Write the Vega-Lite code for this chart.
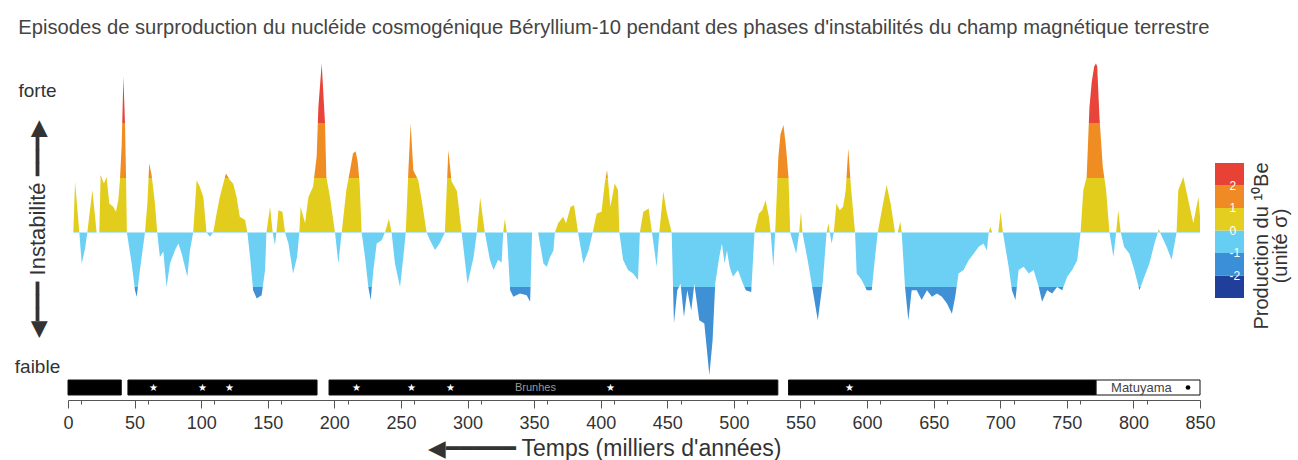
{
  "$schema": "https://vega.github.io/schema/vega-lite/v6.json",
  "padding": {"left": 14, "top": 17, "right": 0, "bottom": 0},
  "config": {"view": {"stroke": null}, "font": "Liberation Sans"},
  "title": {"text": "Episodes de surproduction du nucléide cosmogénique Béryllium-10 pendant des phases d'instabilités du champ magnétique terrestre", "anchor": "start", "fontSize": 20.2, "fontWeight": "normal", "color": "#444", "offset": 20, "dx": 4},
  "datasets": {
    "be10": [
      {"t":4,"v":0},{"t":5.3,"v":0.93},{"t":7.5,"v":0.3},{"t":8.5,"v":0},
      {"t":10.3,"v":-0.57},{"t":12.8,"v":-0.3},{"t":14.5,"v":0},
      {"t":18.3,"v":0.78},{"t":21.5,"v":0},
      {"t":23.5,"v":0},{"t":24.5,"v":1.05},{"t":27,"v":0.9},{"t":29,"v":1.02},{"t":31,"v":0.53},{"t":34,"v":0.47},{"t":36,"v":0.38},{"t":37.8,"v":0.6},{"t":39,"v":0.96},{"t":40.3,"v":1.6},{"t":41.6,"v":2.86},{"t":42.8,"v":2.0},{"t":43.6,"v":1.0},{"t":44.2,"v":0},
      {"t":47.8,"v":-0.57},{"t":50.3,"v":-1.06},{"t":51.6,"v":-1.18},{"t":54,"v":-0.69},{"t":57.8,"v":0},
      {"t":59.6,"v":0.53},{"t":61,"v":1.27},{"t":62.8,"v":1.05},{"t":65.3,"v":0.53},{"t":67,"v":0},
      {"t":69,"v":-0.45},{"t":71.6,"v":-0.35},{"t":74,"v":-1.0},{"t":76.6,"v":-0.57},{"t":80.4,"v":-0.32},{"t":82.9,"v":-0.2},{"t":85.4,"v":-0.39},{"t":89.6,"v":-0.81},{"t":91.6,"v":-0.32},{"t":94,"v":0},
      {"t":96.6,"v":0.96},{"t":99,"v":0.84},{"t":101.6,"v":0.65},{"t":104,"v":0},
      {"t":106.6,"v":-0.08},{"t":109,"v":0},
      {"t":111.6,"v":0.35},{"t":114,"v":0.65},{"t":116.6,"v":0.9},{"t":118.6,"v":1.08},{"t":121.7,"v":0.96},{"t":124,"v":0.9},{"t":126.6,"v":0.65},{"t":129,"v":0.29},{"t":133,"v":0.23},{"t":134.7,"v":0},
      {"t":136.7,"v":-0.45},{"t":139,"v":-1.06},{"t":141.7,"v":-1.21},{"t":145.4,"v":-1.15},{"t":148,"v":-0.69},{"t":149,"v":0},
      {"t":151.7,"v":0.47},{"t":153.7,"v":0},
      {"t":155.4,"v":-0.23},{"t":156.5,"v":0},
      {"t":158,"v":0.41},{"t":161,"v":0.38},{"t":163,"v":0},
      {"t":165.5,"v":-0.2},{"t":169,"v":-0.75},{"t":172,"v":-0.45},{"t":173.7,"v":0},
      {"t":174.7,"v":0.47},{"t":178,"v":0.17},{"t":180.5,"v":0.65},{"t":184,"v":0.84},{"t":186.7,"v":1.39},{"t":188,"v":2.3},{"t":190.5,"v":3.1},{"t":193,"v":2.0},{"t":194,"v":1.02},{"t":196.7,"v":0.65},{"t":200.5,"v":0},
      {"t":203,"v":-0.57},{"t":205.5,"v":0},
      {"t":209,"v":0.78},{"t":211.8,"v":1.14},{"t":214,"v":1.45},{"t":216,"v":1.49},{"t":217.5,"v":1.3},{"t":219,"v":0.9},{"t":220.5,"v":0},
      {"t":223,"v":-0.45},{"t":225.5,"v":-1.0},{"t":227.3,"v":-1.24},{"t":229.3,"v":-0.69},{"t":231.8,"v":-0.2},{"t":235.5,"v":-0.14},{"t":238,"v":0},
      {"t":241,"v":0.25},{"t":243,"v":0},
      {"t":245.5,"v":-0.57},{"t":249.3,"v":-1.0},{"t":251.8,"v":-0.45},{"t":253.6,"v":0},
      {"t":255.6,"v":1.14},{"t":257.3,"v":2.0},{"t":259.3,"v":1.14},{"t":263,"v":0.96},{"t":265.6,"v":0.59},{"t":269.3,"v":0},
      {"t":271.8,"v":-0.14},{"t":275.6,"v":-0.32},{"t":279,"v":-0.2},{"t":283,"v":0},
      {"t":285.6,"v":1.51},{"t":288,"v":0.94},{"t":292,"v":0.76},{"t":295.6,"v":0},
      {"t":300,"v":-0.94},{"t":304.5,"v":-0.46},{"t":307,"v":0},
      {"t":309.5,"v":0.64},{"t":313,"v":0},
      {"t":316.8,"v":-0.5},{"t":319.5,"v":-0.69},{"t":323,"v":-0.5},{"t":325.6,"v":-0.55},{"t":326.8,"v":0},
      {"t":328,"v":0.25},{"t":329.5,"v":0},
      {"t":332,"v":-1.06},{"t":334.4,"v":-1.18},{"t":339.4,"v":-1.12},{"t":344.4,"v":-1.15},{"t":347,"v":-1.27},{"t":348.5,"v":0},
      {"t":353,"v":0},{"t":354.4,"v":-0.2},{"t":357,"v":-0.57},{"t":359.5,"v":-0.63},{"t":362,"v":-0.45},{"t":364.5,"v":-0.33},{"t":365.6,"v":0},
      {"t":368,"v":0.17},{"t":371.8,"v":0.29},{"t":374,"v":0.17},{"t":377.4,"v":0.47},{"t":380,"v":0.5},{"t":382,"v":0.17},{"t":383,"v":0},
      {"t":387,"v":-0.57},{"t":390.8,"v":-0.33},{"t":394,"v":0},
      {"t":397,"v":0.35},{"t":400.6,"v":0.38},{"t":403,"v":0.9},{"t":404.8,"v":1.14},{"t":407.3,"v":0.47},{"t":410.5,"v":0.9},{"t":413,"v":0.78},{"t":414,"v":0},
      {"t":416.8,"v":-0.5},{"t":420.5,"v":-0.69},{"t":424.3,"v":-0.75},{"t":428,"v":-0.87},{"t":429.4,"v":0},
      {"t":432,"v":0.38},{"t":436,"v":0.44},{"t":438.5,"v":0},
      {"t":442,"v":-0.63},{"t":444,"v":0},
      {"t":447,"v":0.75},{"t":449.5,"v":0.38},{"t":453.3,"v":0},
      {"t":455,"v":-1.67},{"t":457.5,"v":-1.06},{"t":460,"v":-0.94},{"t":462.5,"v":-1.55},{"t":465,"v":-1.06},{"t":468,"v":-1.43},{"t":470.3,"v":-0.94},{"t":474,"v":-1.61},{"t":477.8,"v":-1.67},{"t":481.6,"v":-2.62},{"t":484,"v":-1.98},{"t":486,"v":-0.94},{"t":489,"v":-0.45},{"t":491,"v":-0.2},{"t":493,"v":-0.57},{"t":494.8,"v":-0.33},{"t":496.8,"v":-0.63},{"t":499.3,"v":-0.81},{"t":503,"v":-0.69},{"t":506.8,"v":-0.94},{"t":509,"v":-1.06},{"t":513,"v":-1.09},{"t":515.5,"v":0},
      {"t":518.8,"v":0.35},{"t":521.3,"v":0.41},{"t":523.8,"v":0.59},{"t":526.3,"v":0.29},{"t":527.6,"v":0},
      {"t":529.6,"v":-0.63},{"t":531,"v":0},
      {"t":533.4,"v":1.39},{"t":535,"v":1.8},{"t":537.2,"v":1.97},{"t":539,"v":1.6},{"t":541,"v":1.02},{"t":542.3,"v":0},
      {"t":546.8,"v":-0.39},{"t":549,"v":0},
      {"t":550.4,"v":0.38},{"t":551.5,"v":0},
      {"t":555.4,"v":-0.51},{"t":559.2,"v":-1.06},{"t":563,"v":-1.61},{"t":566.8,"v":-0.9},{"t":569.6,"v":0},
      {"t":571,"v":0.17},{"t":572,"v":0},
      {"t":573.4,"v":-0.2},{"t":575,"v":0},
      {"t":577,"v":0.53},{"t":579.5,"v":0.41},{"t":582,"v":0.47},{"t":584,"v":0.78},{"t":585.9,"v":1.54},{"t":587.7,"v":0.9},{"t":589.7,"v":0.35},{"t":591,"v":0},
      {"t":592.2,"v":-0.75},{"t":596,"v":-0.87},{"t":599.8,"v":-1.06},{"t":603.5,"v":-1.06},{"t":606,"v":-0.45},{"t":608,"v":0},
      {"t":612,"v":0.53},{"t":614.7,"v":0.87},{"t":617.7,"v":0.53},{"t":621,"v":0},
      {"t":623,"v":0},{"t":625,"v":0.2},{"t":626,"v":0},
      {"t":628.5,"v":-1.0},{"t":631,"v":-1.61},{"t":633.5,"v":-1.06},{"t":637.3,"v":-1.06},{"t":641,"v":-1.24},{"t":645,"v":-1.06},{"t":648.7,"v":-1.18},{"t":652.5,"v":-1.12},{"t":656.2,"v":-1.18},{"t":660,"v":-1.3},{"t":663.7,"v":-1.49},{"t":666.2,"v":-1.18},{"t":668.7,"v":-0.75},{"t":672.5,"v":-0.69},{"t":676.3,"v":-0.51},{"t":680,"v":-0.39},{"t":683.8,"v":-0.26},{"t":687.5,"v":-0.2},{"t":690,"v":-0.33},{"t":691.3,"v":0},
      {"t":692.5,"v":0.1},{"t":694,"v":0},
      {"t":698.5,"v":0},{"t":700.3,"v":0.38},{"t":702,"v":0},
      {"t":706.3,"v":-0.63},{"t":708.8,"v":-1.06},{"t":711.4,"v":-1.24},{"t":713.8,"v":-0.69},{"t":717.6,"v":-0.63},{"t":721.4,"v":-0.75},{"t":725.1,"v":-0.69},{"t":728.9,"v":-1.0},{"t":731.4,"v":-1.27},{"t":735.2,"v":-1.06},{"t":739,"v":-1.12},{"t":742.7,"v":-1.0},{"t":746.5,"v":-1.06},{"t":750.3,"v":-0.81},{"t":754,"v":-0.69},{"t":757.8,"v":-0.51},{"t":760.3,"v":0},
      {"t":762.4,"v":0.78},{"t":764.9,"v":1.02},{"t":767,"v":2.3},{"t":768.7,"v":2.76},{"t":770.5,"v":3.04},{"t":771.8,"v":3.1},{"t":772.8,"v":3.05},{"t":774.5,"v":2.12},{"t":777,"v":1.2},{"t":779.5,"v":0.78},{"t":782,"v":0},
      {"t":785,"v":-0.45},{"t":787,"v":0},
      {"t":788.6,"v":0.41},{"t":790.5,"v":0},
      {"t":793,"v":-0.26},{"t":797,"v":-0.39},{"t":800.7,"v":-0.69},{"t":804.5,"v":-1.06},{"t":808.2,"v":-0.81},{"t":812,"v":-0.57},{"t":815.8,"v":-0.2},{"t":818.3,"v":0},
      {"t":819,"v":0.07},{"t":820,"v":0},
      {"t":824.9,"v":-0.26},{"t":828.7,"v":-0.5},{"t":832.4,"v":0},
      {"t":833.7,"v":0.78},{"t":837.5,"v":1.02},{"t":841.2,"v":0.59},{"t":845,"v":0.17},{"t":848.8,"v":0.65},{"t":850,"v":0.3}
    ],
    "chrons": [
      {"start":0,"end":40,"chron":"Brunhes"},
      {"start":45,"end":187,"chron":"Brunhes"},
      {"start":196,"end":533,"chron":"Brunhes"},
      {"start":541,"end":772,"chron":"Brunhes"},
      {"start":772,"end":850,"chron":"Matuyama"}
    ],
    "stars": [{"t":64},{"t":101},{"t":121},{"t":217},{"t":258},{"t":287},{"t":407},{"t":587}]
  },
  "bounds": "flush",
  "spacing": 3,
  "vconcat": [
    {
      "width": 1132,
      "height": 319,
      "data": {"name": "be10"},
      "layer": [
        {
          "mark": {
            "type": "area",
            "interpolate": "linear",
            "color": {
              "gradient": "linear", "x1": 0, "y1": 0, "x2": 0, "y2": 1,
              "stops": [
                {"offset": 0, "color": "#e8443a"},
                {"offset": 0.19231, "color": "#e8443a"},
                {"offset": 0.19231, "color": "#ef8c22"},
                {"offset": 0.36713, "color": "#ef8c22"},
                {"offset": 0.36713, "color": "#e2cd1c"},
                {"offset": 0.54196, "color": "#e2cd1c"},
                {"offset": 0.54196, "color": "#6ccff4"},
                {"offset": 0.71678, "color": "#6ccff4"},
                {"offset": 0.71678, "color": "#3f90d5"},
                {"offset": 1, "color": "#3f90d5"}
              ]
            }
          },
          "encoding": {
            "x": {
              "field": "t", "type": "quantitative", "scale": {"domain": [0, 850], "nice": false},
              "axis": {
                "orient": "bottom", "offset": 23,
                "values": [10,20,30,40,60,70,80,90,110,120,130,140,160,170,180,190,210,220,230,240,260,270,280,290,310,320,330,340,360,370,380,390,410,420,430,440,460,470,480,490,510,520,530,540,560,570,580,590,610,620,630,640,660,670,680,690,710,720,730,740,760,770,780,790,810,820,830,840],
                "tickSize": 4, "labels": false, "domain": false, "grid": false, "title": null, "tickColor": "#555"
              }
            },
            "y": {
              "field": "v", "type": "quantitative",
              "scale": {"domain": [-2.65, 3.2], "nice": false, "zero": false},
              "axis": {
                "values": [2.6, -2.45],
                "labelExpr": "datum.value > 0 ? 'forte' : 'faible'",
                "ticks": false, "domain": false, "grid": false,
                "labelFontSize": 19, "labelColor": "#333", "labelAlign": "center", "labelBaseline": "middle",
                "labelPadding": 31,
                "title": "◀━━━ Instabilité ━━━▶",
                "titleFontSize": 22, "titleFontWeight": "normal", "titleColor": "#333",
                "titleX": -31, "titleY": 170.5, "titleAngle": 270, "titleAlign": "center", "titleBaseline": "middle"
              }
            },
            "y2": {"datum": 0}
          }
        },
        {
          "mark": {"type": "point", "opacity": 0},
          "encoding": {
            "x": {"field": "t", "type": "quantitative"},
            "y": {"field": "v", "type": "quantitative"},
            "color": {
              "field": "v", "type": "quantitative",
              "scale": {"type": "threshold", "domain": [-2, -1, 0, 1, 2], "range": ["#1f3f9b", "#3b8fd9", "#66cdf3", "#e4cf20", "#f08a24", "#e84136"]},
              "legend": {
                "type": "gradient", "orient": "none", "legendX": 1147, "legendY": 105, "direction": "vertical",
                "gradientLength": 135, "gradientThickness": 29, "gradientStrokeWidth": 0,
                "labelColor": "#ffffff", "labelFontSize": 12, "labelOffset": -14.5, "labelAlign": "center", "labelOverlap": false,
                "title": ["Production du ¹⁰Be", "(unité σ)"], "titleOrient": "right", "titleAlign": "center",
                "titleFontSize": 20, "titleFontWeight": "normal", "titleColor": "#333", "titlePadding": 8, "titleLineHeight": 19,
                "encode": {"title": {"update": {"angle": {"value": 270}, "align": {"value": "center"}, "dx": {"value": -25}, "dy": {"value": 20}}}}
              }
            }
          }
        }
      ]
    },
    {
      "width": 1132,
      "height": 15,
      "layer": [
        {
          "data": {"name": "chrons"},
          "mark": {"type": "rect", "stroke": "#111", "strokeWidth": 1},
          "encoding": {
            "x": {
              "field": "start", "type": "quantitative", "scale": {"domain": [0, 850], "nice": false},
              "axis": {
                "values": [0,50,100,150,200,250,300,350,400,450,500,550,600,650,700,750,800,850],
                "tickSize": 8, "labelFontSize": 18, "labelColor": "#333", "labelPadding": 6,
                "labelFlush": false, "labelOverlap": false,
                "domainColor": "#555", "tickColor": "#555", "offset": 5, "grid": false,
                "title": "◀━━━━━  Temps (milliers d'années)",
                "titleFontSize": 23, "titleFontWeight": "normal", "titleColor": "#333", "titlePadding": 5, "titleX": 536
              }
            },
            "x2": {"field": "end"},
            "color": {"field": "chron", "type": "nominal", "scale": {"domain": ["Brunhes", "Matuyama"], "range": ["#000000", "#ffffff"]}, "legend": null}
          }
        },
        {
          "data": {"name": "stars"},
          "mark": {"type": "text", "text": "★", "color": "#ffffff", "fontSize": 10},
          "encoding": {"x": {"field": "t", "type": "quantitative"}}
        },
        {
          "data": {"values": [{"t": 351, "label": "Brunhes"}]},
          "mark": {"type": "text", "color": "#9a9a9a", "fontSize": 11},
          "encoding": {"x": {"field": "t", "type": "quantitative"}, "text": {"field": "label"}}
        },
        {
          "data": {"values": [{"t": 806, "label": "Matuyama"}]},
          "mark": {"type": "text", "color": "#444", "fontSize": 13},
          "encoding": {"x": {"field": "t", "type": "quantitative"}, "text": {"field": "label"}}
        },
        {
          "data": {"values": [{"t": 841}]},
          "mark": {"type": "point", "filled": true, "color": "#000", "size": 22, "opacity": 1},
          "encoding": {"x": {"field": "t", "type": "quantitative"}}
        }
      ]
    }
  ]
}
